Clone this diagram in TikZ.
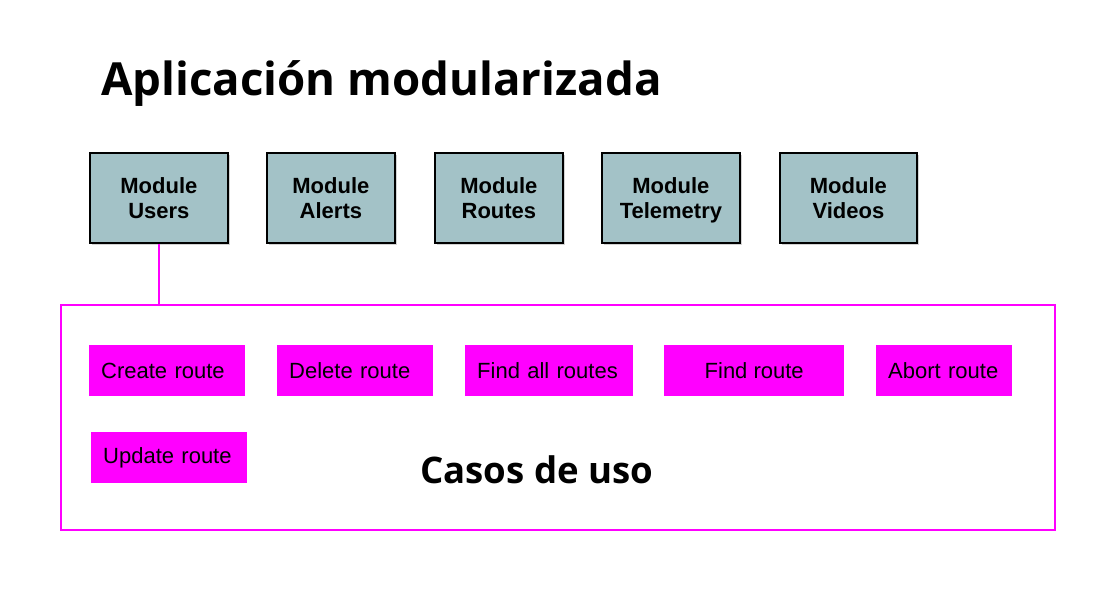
\documentclass[tikz,border=0pt]{standalone}
\usepackage{fontspec}
\setmainfont{Liberation Sans}
\newfontfamily\titlefont{Open Sans}
\usetikzlibrary{shadows}
\definecolor{modfill}{HTML}{A3C2C7}
\definecolor{mag}{HTML}{FF00FF}
\begin{document}
\begin{tikzpicture}[x=1pt,y=-1pt,
  modbox/.style={draw=black, line width=1.8pt, fill=modfill, anchor=north west, inner sep=0pt,
    align=center, text depth=0pt, font=\bfseries\fontsize{22}{25}\selectfont,
    drop shadow={shadow xshift=2pt, shadow yshift=-2pt, opacity=0.35}},
  usebox/.style={fill=mag, anchor=north west, inner sep=0pt, minimum height=51pt,
    font=\fontsize{22}{25}\selectfont},
  magline/.style={draw=mag, line width=2pt}]
\useasboundingbox (0,0) rectangle (1098,595);
\node[anchor=base west, inner sep=0pt, font=\titlefont\bfseries\fontsize{45.6}{50}\selectfont] (title) at (101,95) {Aplicación modularizada};
\node[modbox, minimum width=138pt, minimum height=90pt] (users) at (89,152) {Module\\Users};
\node[modbox, minimum width=128pt, minimum height=90pt] (alerts) at (266,152) {Module\\Alerts};
\node[modbox, minimum width=128pt, minimum height=90pt] (routes) at (434,152) {Module\\Routes};
\node[modbox, minimum width=138pt, minimum height=90pt] (telemetry) at (601,152) {Module\\Telemetry};
\node[modbox, minimum width=137pt, minimum height=90pt] (videos) at (779,152) {Module\\Videos};
\node[draw=mag, line width=2pt, anchor=north west, minimum width=994pt, minimum height=225pt, inner sep=0pt] (casos) at (60,304) {};
\draw[magline] (users.south) -- (users.south |- casos.north);
\node[usebox, text width=132pt, inner xsep=12pt, align=left] (create) at (89,345) {Create route};
\node[usebox, text width=132pt, inner xsep=12pt, align=left] (delete) at (277,345) {Delete route};
\node[usebox, text width=144pt, inner xsep=12pt, align=left] (findall) at (465,345) {Find all routes};
\node[usebox, minimum width=180pt] (find) at (664,345) {Find route};
\node[usebox, text width=112pt, inner xsep=12pt, align=left] (abort) at (876,345) {Abort route};
\node[usebox, text width=132pt, inner xsep=12pt, align=left] (update) at (91,432) {Update route};
\node[anchor=base west, inner sep=0pt, font=\titlefont\bfseries\fontsize{36.6}{40}\selectfont] (casoslabel) at (420,483) {Casos de uso};
\end{tikzpicture}
\end{document}
